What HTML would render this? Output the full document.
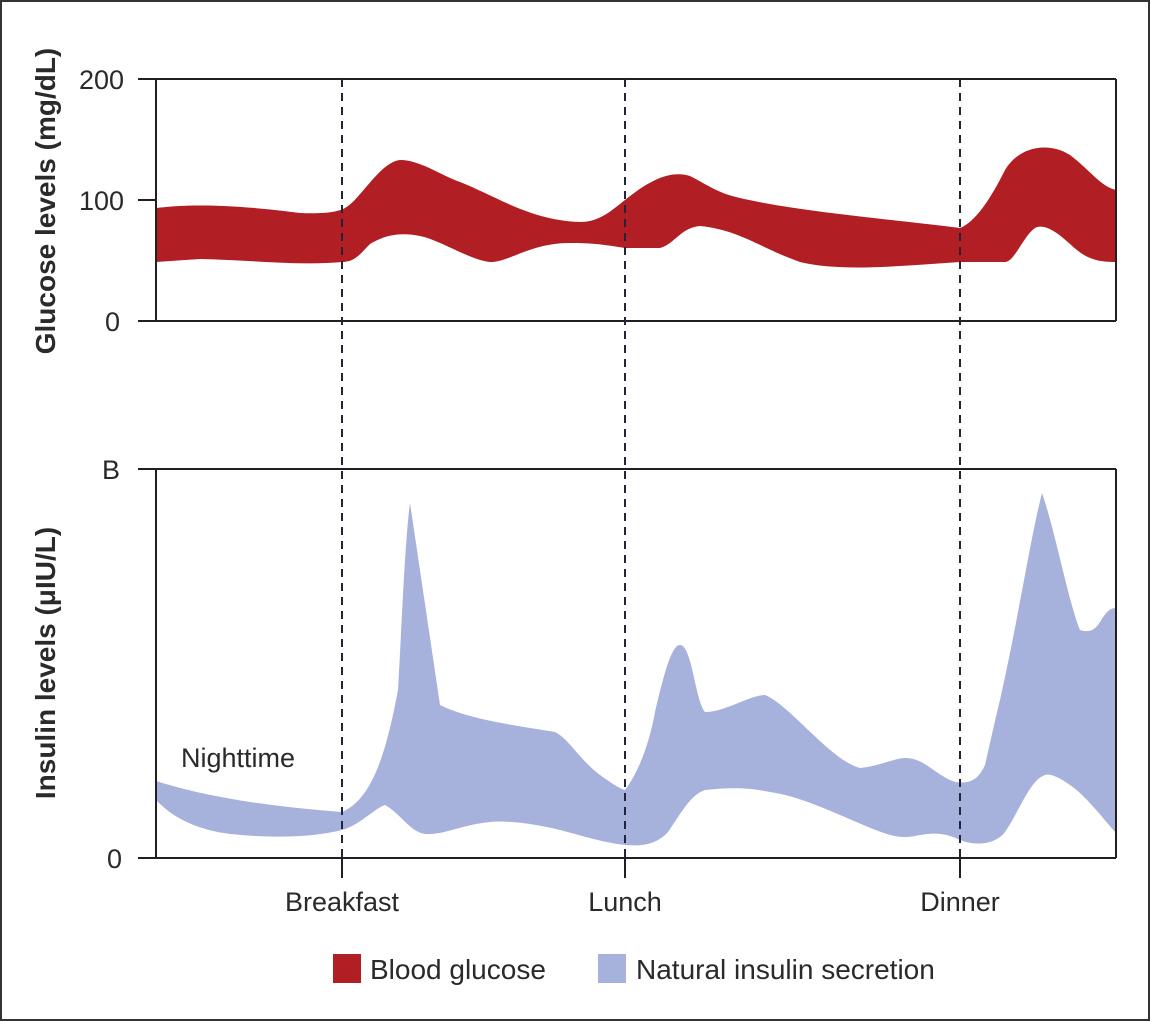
<!DOCTYPE html>
<html><head><meta charset="utf-8"><style>
html,body{margin:0;padding:0;background:#fff}
svg{display:block}
text{font-family:"Liberation Sans",sans-serif;fill:#2a2a2a}
</style></head><body>
<svg width="1151" height="1022" viewBox="0 0 1151 1022" xmlns="http://www.w3.org/2000/svg">
<rect x="1" y="1" width="1148" height="1019" fill="none" stroke="#333" stroke-width="2"/>
<path fill="#b11e23" d="M156,208 C190,204 230,204 300,213 C325,214 338,212 345,208 C360,200 380,162 400,160 C420,160 440,175 460,182 C500,198 530,220 580,222 C600,222 612,210 625,200 C650,180 670,170 690,176 C710,186 715,192 740,198 C800,212 900,220 960,228 C975,222 990,200 1005,170 C1020,145 1050,142 1070,155 C1090,170 1100,186 1116,190 L1116,262 C1095,262 1085,258 1070,244 C1055,230 1045,225 1037,227 C1025,232 1015,262 1005,262 L960,262 C900,266 840,272 800,262 C760,248 740,230 700,226 C680,228 675,244 660,248 L625,248 C600,244 590,243 570,243 C530,243 510,262 490,262 C470,260 440,240 420,236 C400,232 385,235 370,244 C360,254 355,262 342,262 C300,266 250,260 200,259 L156,262 Z"/>
<path fill="#a7b2dc" d="M156,781 C200,795 260,806 342,812 C370,800 385,760 398,690 C402,620 405,540 410,503 L440,705 C470,720 520,726 555,732 C568,738 580,760 600,775 C610,782 618,788 625,790 C640,770 650,740 655,712 C665,670 672,645 680,645 C692,645 695,700 705,712 C725,712 750,695 765,695 C790,705 830,760 860,768 C880,766 895,758 905,758 C925,758 935,775 955,782 C970,784 978,780 985,765 C992,735 995,720 1000,700 C1020,610 1030,540 1042,493 C1055,530 1068,600 1080,630 C1090,633 1095,630 1100,622 C1106,612 1110,608 1116,608 L1116,833 C1100,815 1085,795 1070,785 C1060,778 1050,773 1045,775 C1030,780 1020,810 1005,832 C995,845 975,846 960,840 C945,833 935,832 915,836 C895,840 880,832 840,815 C810,802 790,795 770,792 C750,788 735,787 705,790 C690,795 680,815 668,832 C655,846 640,846 625,845 C600,842 580,835 560,830 C540,825 510,820 490,822 C460,825 445,835 425,834 C410,832 400,813 385,805 C375,808 360,825 342,830 C310,838 270,838 230,834 C200,830 175,820 156,800 Z"/>
<g stroke="#231f20" stroke-width="2" fill="none">
<polyline points="156,79 156,321"/>
<line x1="138" y1="79" x2="1116" y2="79"/>
<line x1="138" y1="200" x2="156" y2="200"/>
<line x1="138" y1="321" x2="1116" y2="321"/>
<line x1="1116" y1="79" x2="1116" y2="321"/>
<polyline points="156,469 156,858"/>
<line x1="138" y1="469" x2="1116" y2="469"/>
<line x1="138" y1="858" x2="1116" y2="858"/>
<line x1="1116" y1="469" x2="1116" y2="858"/>
<line x1="342" y1="858" x2="342" y2="878"/>
<line x1="625" y1="858" x2="625" y2="878"/>
<line x1="960" y1="858" x2="960" y2="878"/>
</g>
<g stroke="#23233a" stroke-width="2" stroke-dasharray="8,6">
<line x1="342" y1="79" x2="342" y2="858"/>
<line x1="625" y1="79" x2="625" y2="858"/>
<line x1="960" y1="79" x2="960" y2="858"/>
</g>
<g font-size="27" text-anchor="end">
<text x="124" y="89">200</text>
<text x="124" y="210">100</text>
<text x="120" y="331">0</text>
<text x="120" y="479">B</text>
<text x="122" y="868">0</text>
</g>
<g font-size="28" font-weight="bold" text-anchor="middle">
<text transform="translate(55,201) rotate(-90)">Glucose levels (mg/dL)</text>
<text transform="translate(55,663) rotate(-90)">Insulin levels (μIU/L)</text>
</g>
<g font-size="27" text-anchor="middle">
<text x="342" y="911">Breakfast</text>
<text x="625" y="911">Lunch</text>
<text x="960" y="911">Dinner</text>
</g>
<text x="181" y="767" font-size="27">Nighttime</text>
<rect x="333" y="954" width="28" height="29" fill="#b11e23"/>
<text x="370" y="979" font-size="28">Blood glucose</text>
<rect x="598" y="954" width="28" height="29" fill="#a7b2dc"/>
<text x="636" y="979" font-size="28">Natural insulin secretion</text>
</svg>
</body></html>
